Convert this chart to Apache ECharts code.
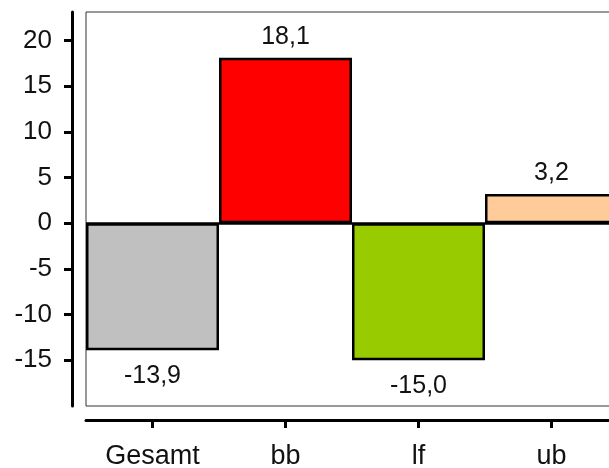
<!DOCTYPE html>
<html><head><meta charset="utf-8">
<script src="https://cdn.jsdelivr.net/npm/echarts@6/dist/echarts.min.js"></script>
<style>html,body{margin:0;padding:0;background:#fff}#c{width:609px;height:468px}</style>
</head><body><div id="c"></div>
<script>
const categories = ['Gesamt', 'bb', 'lf', 'ub'];
const values = [-13.9, 18.1, -15.0, 3.2];
const colors = ['#C0C0C0', '#FF0000', '#99CC00', '#FFCC99'];
const yTicks = [-15, -10, -5, 0, 5, 10, 15, 20];

const chart = echarts.init(document.getElementById('c'), null, {renderer: 'canvas'});
const font = '"Liberation Sans", Arial, sans-serif';
chart.setOption({
  animation: false,
  grid: {left: 86, top: 12, width: 532, height: 394, show: true, borderColor: '#333', borderWidth: 1,
    containLabel: false, outerBoundsMode: 'none'},
  xAxis: {
    type: 'category', data: categories, offset: 14,
    axisLine: {show: true, onZero: false, lineStyle: {color: '#000', width: 3}},
    axisTick: {show: true, alignWithLabel: true, interval: 0, length: 8, lineStyle: {color: '#000', width: 3}},
    axisLabel: {color: '#111', fontSize: 27, fontFamily: font, margin: 23},
    splitLine: {show: false}
  },
  yAxis: {
    type: 'value', min: -20, max: 23.1, offset: 14,
    axisLine: {show: true, onZero: false, lineStyle: {color: '#000', width: 3}},
    axisTick: {show: true, length: 8, lineStyle: {color: '#000', width: 3}, customValues: yTicks},
    axisLabel: {color: '#111', fontSize: 26, fontFamily: font, margin: 20, customValues: yTicks},
    splitLine: {show: false}
  },
  series: [{
    type: 'bar', barCategoryGap: '0%',
    data: values.map((v, i) => ({
      value: v,
      itemStyle: {color: colors[i]},
      label: {position: v >= 0 ? 'top' : 'bottom', distance: v >= 0 ? 8 : 13}
    })),
    itemStyle: {borderColor: '#000', borderWidth: 2.5},
    label: {show: true, color: '#111', fontSize: 25, fontFamily: font,
      formatter: p => p.value.toFixed(1).replace('.', ',')},
    markLine: {silent: true, symbol: 'none', label: {show: false},
      lineStyle: {color: '#000', width: 2.5, type: 'solid'}, data: [{yAxis: 0}]}
  }]
});
</script></body></html>
